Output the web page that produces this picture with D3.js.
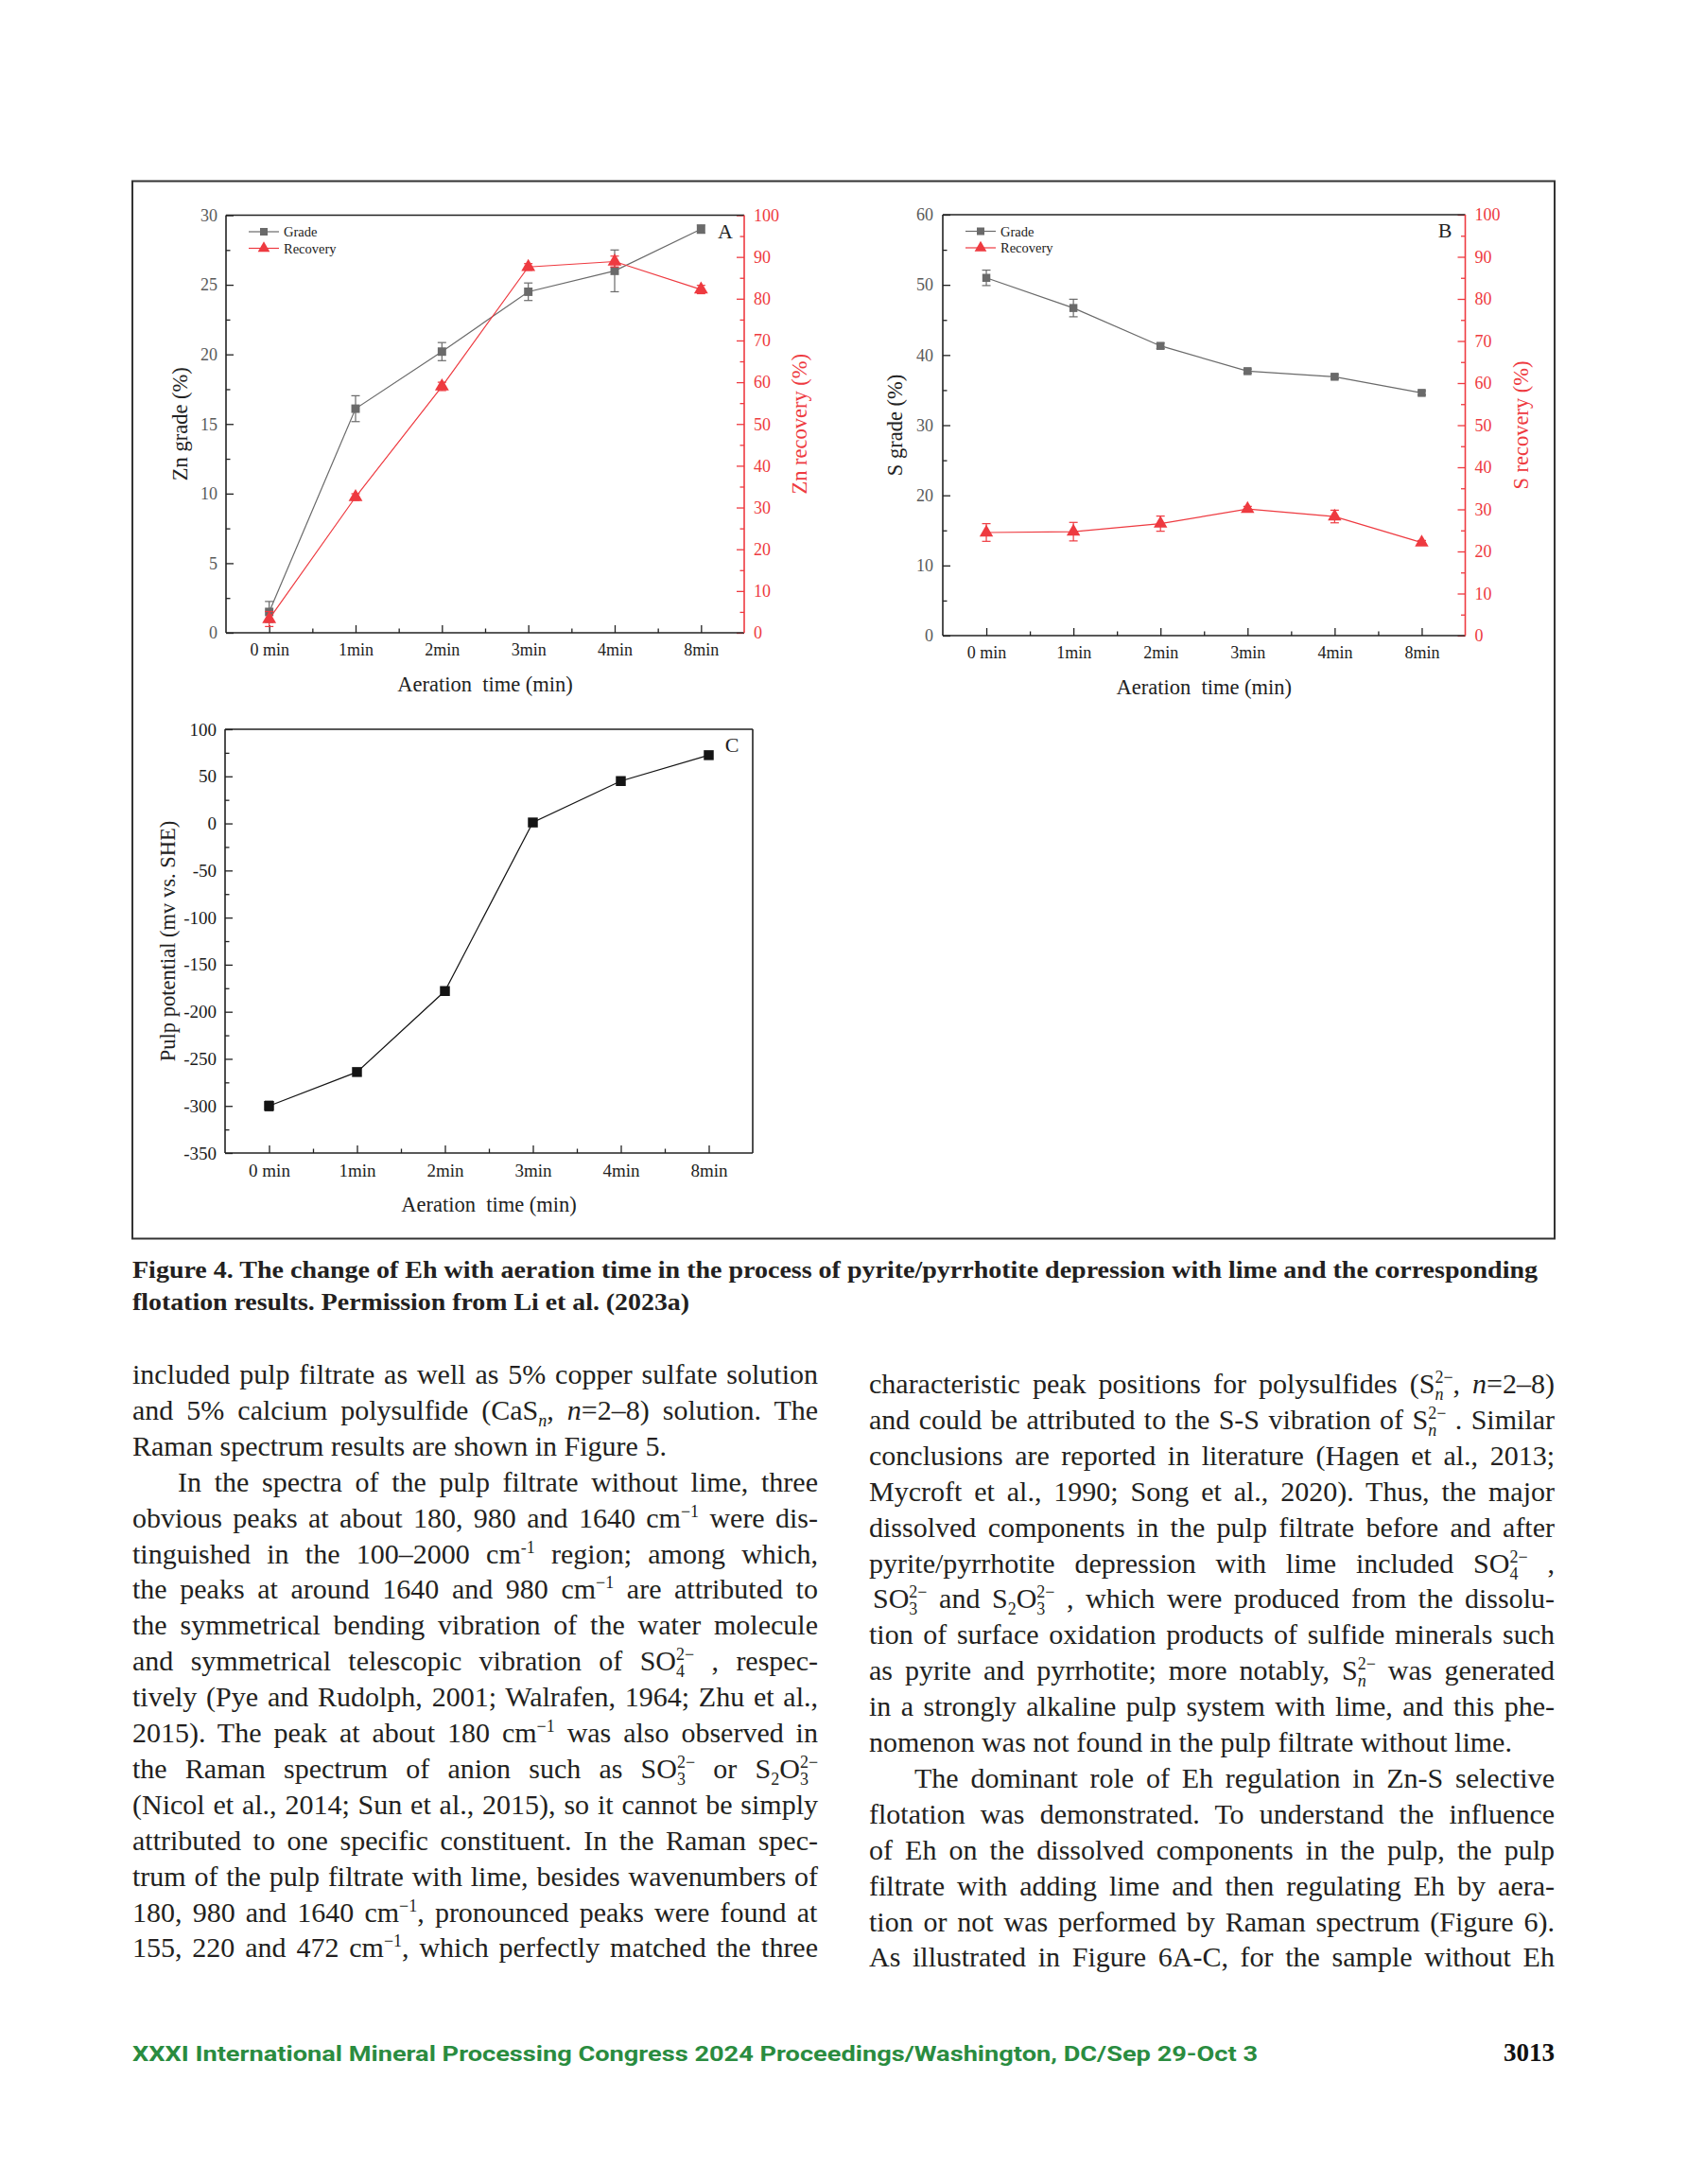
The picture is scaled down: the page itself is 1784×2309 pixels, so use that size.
<!DOCTYPE html>
<html>
<head>
<meta charset="utf-8">
<script src="https://cdn.jsdelivr.net/npm/d3@7"></script>
<style>
  html, body { margin: 0; padding: 0; background: #fff; }
  svg { display: block; }
</style>
</head>
<body>
<svg id="page" width="1784" height="2309"></svg>
<script>
// ---------------- DATA ----------------
const categories = ["0 min", "1min", "2min", "3min", "4min", "8min"];

const znGrade       = [1.5, 16.1, 20.2, 24.5, 26.0, 29.0];
const znGradeErr    = [0.75, 0.93, 0.65, 0.63, 1.5, 0.3];
const znRecovery    = [3.3, 32.5, 59.0, 87.6, 88.9, 82.2];
const znRecoveryErr = [1.8, 0.8, 1.0, 0.8, 1.3, 1.0];

const sGrade        = [51.0, 46.7, 41.3, 37.7, 36.9, 34.6];
const sGradeErr     = [1.1, 1.25, 0.4, 0.3, 0.3, 0.3];
const sRecovery     = [24.5, 24.7, 26.6, 30.1, 28.3, 22.1];
const sRecoveryErr  = [2.1, 2.2, 1.8, 0.6, 1.5, 0.5];

const pulpPotential    = [-300, -264, -178, 1, 45, 72.5];
const pulpPotentialErr = [5, 3, 3, 2, 4, 3];

const znGradeTicks   = [0, 5, 10, 15, 20, 25, 30];
const sGradeTicks    = [0, 10, 20, 30, 40, 50, 60];
const recoveryTicks  = [0, 10, 20, 30, 40, 50, 60, 70, 80, 90, 100];
const potentialTicks = [-350, -300, -250, -200, -150, -100, -50, 0, 50, 100];

const legendLabels = ["Grade", "Recovery"];

const captionLines = [
  "Figure 4. The change of Eh with aeration time in the process of pyrite/pyrrhotite depression with lime and the corresponding",
  "flotation results. Permission from Li et al. (2023a)"
];

// body text markup: ^{..} sup, _{..} sub, [sup|sub] stacked, *..* italic
const leftColumn = [
  {t: "included pulp filtrate as well as 5% copper sulfate solution"},
  {t: "and 5% calcium polysulfide (CaS_{n}, *n*=2–8) solution. The"},
  {t: "Raman spectrum results are shown in Figure 5.", last: true},
  {t: "In the spectra of the pulp filtrate without lime, three", indent: true},
  {t: "obvious peaks at about 180, 980 and 1640 cm^{−1} were dis-"},
  {t: "tinguished in the 100–2000 cm^{-1} region; among which,"},
  {t: "the peaks at around 1640 and 980 cm^{−1} are attributed to"},
  {t: "the symmetrical bending vibration of the water molecule"},
  {t: "and symmetrical telescopic vibration of SO[2−|4] , respec-"},
  {t: "tively (Pye and Rudolph, 2001; Walrafen, 1964; Zhu et al.,"},
  {t: "2015). The peak at about 180 cm^{−1} was also observed in"},
  {t: "the Raman spectrum of anion such as SO[2−|3] or S_{2}O[2−|3]"},
  {t: "(Nicol et al., 2014; Sun et al., 2015), so it cannot be simply"},
  {t: "attributed to one specific constituent. In the Raman spec-"},
  {t: "trum of the pulp filtrate with lime, besides wavenumbers of"},
  {t: "180, 980 and 1640 cm^{−1}, pronounced peaks were found at"},
  {t: "155, 220 and 472 cm^{−1}, which perfectly matched the three"}
];
const rightColumn = [
  {t: "characteristic peak positions for polysulfides (S[2−|n], *n*=2–8)"},
  {t: "and could be attributed to the S-S vibration of S[2−|n] . Similar"},
  {t: "conclusions are reported in literature (Hagen et al., 2013;"},
  {t: "Mycroft et al., 1990; Song et al., 2020). Thus, the major"},
  {t: "dissolved components in the pulp filtrate before and after"},
  {t: "pyrite/pyrrhotite depression with lime included SO[2−|4] ,"},
  {t: "SO[2−|3] and S_{2}O[2−|3] , which were produced from the dissolu-", pad: 4},
  {t: "tion of surface oxidation products of sulfide minerals such"},
  {t: "as pyrite and pyrrhotite; more notably, S[2−|n] was generated"},
  {t: "in a strongly alkaline pulp system with lime, and this phe-"},
  {t: "nomenon was not found in the pulp filtrate without lime.", last: true},
  {t: "The dominant role of Eh regulation in Zn-S selective", indent: true},
  {t: "flotation was demonstrated. To understand the influence"},
  {t: "of Eh on the dissolved components in the pulp, the pulp"},
  {t: "filtrate with adding lime and then regulating Eh by aera-"},
  {t: "tion or not was performed by Raman spectrum (Figure 6)."},
  {t: "As illustrated in Figure 6A-C, for the sample without Eh"}
];

const footerText = "XXXI International Mineral Processing Congress 2024 Proceedings/Washington, DC/Sep 29-Oct 3";
const pageNumber = "3013";

// ---------------- STYLE ----------------
const serif = "'Liberation Serif','Times New Roman',serif";
const GREY = "#6a6a6a";
const RED = "#ee3a40";
const INK = "#231f20";
const plainFmt = d => String(d); // hyphen-minus like the original

const svg = d3.select("#page");
svg.append("rect").attr("width", 1784).attr("height", 2309).attr("fill", "#fff");

// figure frame
svg.append("rect").attr("x", 140).attr("y", 191.5).attr("width", 1504).attr("height", 1118)
  .attr("fill", "none").attr("stroke", "#333").attr("stroke-width", 2);

function styleAxis(g, size, color) {
  g.attr("font-family", serif).attr("font-size", size);
  g.select(".domain").remove();
  g.selectAll(".tick line").attr("stroke", color).attr("stroke-width", 1.3);
  g.selectAll(".tick text").attr("fill", color);
}

function panel(o) {
  const g = svg.append("g");
  const x = d3.scaleLinear().domain([-0.5, 5.5]).range([o.x0, o.x1]);
  const yL = d3.scaleLinear().domain(o.leftDomain).range([o.y1, o.y0]);
  const yR = o.rightDomain ? d3.scaleLinear().domain(o.rightDomain).range([o.y1, o.y0]) : null;
  const fs = o.fontSize;

  // x axis (inward ticks)
  const xa = g.append("g").attr("transform", `translate(0,${o.y1})`)
    .call(d3.axisBottom(x).tickValues(d3.range(categories.length)).tickFormat(i => categories[i])
      .tickSize(-8).tickPadding(11.5));
  styleAxis(xa, fs, "#222");
  const xm = g.append("g").attr("transform", `translate(0,${o.y1})`)
    .call(d3.axisBottom(x).tickValues(d3.range(0.5, categories.length - 1, 1)).tickFormat("").tickSize(-4.5));
  styleAxis(xm, fs, "#222");

  // left axis
  const la = g.append("g").attr("transform", `translate(${o.x0},0)`)
    .call(d3.axisLeft(yL).tickValues(o.leftTicks).tickFormat(plainFmt).tickSize(-8).tickPadding(o.leftPad));
  styleAxis(la, fs, o.leftTickColor);
  la.selectAll(".tick line").attr("stroke", "#222");
  const lm = g.append("g").attr("transform", `translate(${o.x0},0)`)
    .call(d3.axisLeft(yL).tickValues(o.leftMinor).tickFormat("").tickSize(-4.5));
  styleAxis(lm, fs, "#222");

  if (yR) {
    const ra = g.append("g").attr("transform", `translate(${o.x1},0)`)
      .call(d3.axisRight(yR).tickValues(o.rightTicks).tickFormat(plainFmt).tickSize(-8).tickPadding(10));
    styleAxis(ra, fs, RED);
    const rm = g.append("g").attr("transform", `translate(${o.x1},0)`)
      .call(d3.axisRight(yR).tickValues(o.rightMinor).tickFormat("").tickSize(-4.5));
    styleAxis(rm, fs, RED);
  }

  // frame lines
  const fr = g.append("g").attr("fill", "none").attr("stroke-width", 1.6);
  fr.append("line").attr("x1", o.x0).attr("x2", o.x1).attr("y1", o.y0).attr("y2", o.y0).attr("stroke", "#222");
  fr.append("line").attr("x1", o.x0).attr("x2", o.x1).attr("y1", o.y1).attr("y2", o.y1).attr("stroke", "#222");
  fr.append("line").attr("x1", o.x0).attr("x2", o.x0).attr("y1", o.y0).attr("y2", o.y1).attr("stroke", "#222");
  fr.append("line").attr("x1", o.x1).attr("x2", o.x1).attr("y1", o.y0).attr("y2", o.y1)
    .attr("stroke", yR ? RED : "#222");

  // titles
  g.append("text").attr("x", (o.x0 + o.x1) / 2).attr("y", o.y1 + 61.5)
    .attr("text-anchor", "middle").attr("font-family", serif).attr("font-size", 22.5).attr("fill", "#222")
    .attr("xml:space", "preserve").text("Aeration  time (min)");
  const cy = (o.y0 + o.y1) / 2;
  g.append("text").attr("transform", `translate(${o.leftLabelX},${cy}) rotate(-90)`).attr("dy", "0.35em")
    .attr("text-anchor", "middle").attr("font-family", serif).attr("font-size", 22.5).attr("fill", "#222")
    .text(o.leftLabel);
  if (yR) {
    g.append("text").attr("transform", `translate(${o.rightLabelX},${cy}) rotate(-90)`).attr("dy", "0.35em")
      .attr("text-anchor", "middle").attr("font-family", serif).attr("font-size", 22.5).attr("fill", RED)
      .text(o.rightLabel);
  }
  g.append("text").attr("x", o.tagX).attr("y", o.tagY).attr("text-anchor", "middle")
    .attr("font-family", serif).attr("font-size", 22).attr("fill", "#222").text(o.tag);

  // series
  o.series.forEach(s => {
    const y = s.axis === "R" ? yR : yL;
    const sg = g.append("g");
    sg.append("path").datum(s.values)
      .attr("d", d3.line().x((d, i) => x(i)).y(d => y(d)))
      .attr("fill", "none").attr("stroke", s.color).attr("stroke-width", 1.2);
    const eb = sg.append("g").attr("stroke", s.color).attr("stroke-width", 1.2);
    s.values.forEach((v, i) => {
      const e = s.err[i];
      const xi = x(i);
      eb.append("line").attr("x1", xi).attr("x2", xi).attr("y1", y(v - e)).attr("y2", y(v + e));
      eb.append("line").attr("x1", xi - 4.5).attr("x2", xi + 4.5).attr("y1", y(v - e)).attr("y2", y(v - e));
      eb.append("line").attr("x1", xi - 4.5).attr("x2", xi + 4.5).attr("y1", y(v + e)).attr("y2", y(v + e));
    });
    sg.selectAll("path.m").data(s.values).join("path").attr("class", "m")
      .attr("transform", (d, i) => `translate(${x(i)},${y(d)})`)
      .attr("d", d3.symbol().type(s.marker === "tri" ? d3.symbolTriangle : d3.symbolSquare).size(s.size))
      .attr("fill", s.color);
  });

  // legend
  if (o.legend) {
    o.series.forEach((s, k) => {
      const ly = o.y0 + 17.5 + k * 17.5;
      const lx = o.x0 + 24;
      g.append("line").attr("x1", lx).attr("x2", lx + 32).attr("y1", ly).attr("y2", ly)
        .attr("stroke", s.color).attr("stroke-width", 1.2);
      g.append("path").attr("transform", `translate(${lx + 16},${ly})`)
        .attr("d", d3.symbol().type(s.marker === "tri" ? d3.symbolTriangle : d3.symbolSquare).size(s.marker === "tri" ? 70 : 64))
        .attr("fill", s.color);
      g.append("text").attr("x", lx + 37).attr("y", ly).attr("dy", "0.35em")
        .attr("font-family", serif).attr("font-size", 14.5).attr("fill", "#222").text(legendLabels[k]);
    });
  }
}

panel({
  x0: 239, x1: 787, y0: 227.5, y1: 669, fontSize: 18,
  leftDomain: [0, 30], leftTicks: znGradeTicks, leftMinor: d3.range(2.5, 30, 5), leftPad: 9,
  leftTickColor: "#5a5a5a", leftLabel: "Zn grade (%)", leftLabelX: 190.5,
  rightDomain: [0, 100], rightTicks: recoveryTicks, rightMinor: d3.range(5, 100, 10),
  rightLabel: "Zn recovery (%)", rightLabelX: 845,
  tag: "A", tagX: 767, tagY: 252, legend: true,
  series: [
    {values: znGrade, err: znGradeErr, axis: "L", color: GREY, marker: "square", size: 80},
    {values: znRecovery, err: znRecoveryErr, axis: "R", color: RED, marker: "tri", size: 95}
  ]
});

panel({
  x0: 997, x1: 1549.5, y0: 227, y1: 672, fontSize: 18,
  leftDomain: [0, 60], leftTicks: sGradeTicks, leftMinor: d3.range(5, 60, 10), leftPad: 10,
  leftTickColor: "#5a5a5a", leftLabel: "S grade (%)", leftLabelX: 946,
  rightDomain: [0, 100], rightTicks: recoveryTicks, rightMinor: d3.range(5, 100, 10),
  rightLabel: "S recovery (%)", rightLabelX: 1608,
  tag: "B", tagX: 1528, tagY: 251, legend: true,
  series: [
    {values: sGrade, err: sGradeErr, axis: "L", color: GREY, marker: "square", size: 72},
    {values: sRecovery, err: sRecoveryErr, axis: "R", color: RED, marker: "tri", size: 90}
  ]
});

panel({
  x0: 238, x1: 796, y0: 771, y1: 1219, fontSize: 19,
  leftDomain: [-350, 100], leftTicks: potentialTicks, leftMinor: d3.range(-325, 100, 50), leftPad: 9,
  leftTickColor: "#1a1a1a", leftLabel: "Pulp potential (mv vs. SHE)", leftLabelX: 177,
  tag: "C", tagX: 774, tagY: 795, legend: false,
  series: [
    {values: pulpPotential, err: pulpPotentialErr, axis: "L", color: "#141414", marker: "square", size: 110}
  ]
});

// ---------------- CAPTION ----------------
const capY = [1351, 1385];
const capW = [1486, 589];
captionLines.forEach((c, i) => {
  svg.append("text").attr("x", 140).attr("y", capY[i])
    .attr("font-family", serif).attr("font-weight", "bold").attr("font-size", 26).attr("fill", INK)
    .attr("textLength", capW[i]).attr("lengthAdjust", "spacingAndGlyphs").text(c);
});

// ---------------- BODY TEXT ----------------
const tokenRe = /\[([^|\]]*)\|([^\]]*)\]|\^\{([^}]*)\}|_\{([^}]*)\}|\*([^*]+)\*|[^\[\^_*]+/g;
const BODY = 30, SCR = 18, SUP = -11, SUB = 7;

function renderLine(parent, line, x, y, width) {
  const indent = line.indent ? 48 : (line.pad || 0);
  const t = parent.append("text").attr("x", x + indent).attr("y", y)
    .attr("font-family", serif).attr("font-size", BODY).attr("fill", INK)
    .attr("xml:space", "preserve");
  let cur = 0, pendDx = 0;
  let m;
  tokenRe.lastIndex = 0;
  while ((m = tokenRe.exec(line.t)) !== null) {
    if (m[1] !== undefined) {
      const sp = t.append("tspan").attr("font-size", SCR).attr("dy", SUP - cur).text(m[1]);
      if (pendDx) sp.attr("dx", pendDx);
      pendDx = 0;
      const ws = sp.node().getComputedTextLength();
      const sb = t.append("tspan").attr("font-size", SCR).attr("dx", -ws).attr("dy", SUB - SUP).text(m[2]);
      if (/[a-z]/.test(m[2])) sb.attr("font-style", "italic");
      const wb = sb.node().getComputedTextLength();
      cur = SUB;
      pendDx = Math.max(0, ws - wb);
    } else if (m[3] !== undefined || m[4] !== undefined) {
      const isSup = m[3] !== undefined;
      const txt = isSup ? m[3] : m[4];
      const target = isSup ? SUP : SUB;
      const sp = t.append("tspan").attr("font-size", SCR).attr("dy", target - cur).text(txt);
      if (/^[a-z]$/.test(txt)) sp.attr("font-style", "italic");
      if (pendDx) sp.attr("dx", pendDx);
      pendDx = 0;
      cur = target;
    } else {
      const italic = m[5] !== undefined;
      const txt = italic ? m[5] : m[0];
      const sp = t.append("tspan").attr("dy", -cur).text(txt);
      if (italic) sp.attr("font-style", "italic");
      if (pendDx) sp.attr("dx", pendDx);
      pendDx = 0;
      cur = 0;
    }
  }
  if (!line.last) {
    const w = t.node().getBBox().width;
    const spaces = (t.text().match(/ /g) || []).length;
    if (spaces > 0) {
      const extra = (width - indent - w) / spaces;
      t.attr("word-spacing", extra.toFixed(2));
      t.style("word-spacing", extra.toFixed(2) + "px");
    }
  }
}

const bodyG = svg.append("g");
leftColumn.forEach((l, i) => renderLine(bodyG, l, 140, 1463 + i * 37.9, 725));
rightColumn.forEach((l, i) => renderLine(bodyG, l, 919, 1473 + i * 37.9, 725));

// ---------------- FOOTER ----------------
svg.append("text").attr("x", 140).attr("y", 2179)
  .attr("font-family", "Roboto, 'Liberation Sans', sans-serif").attr("font-weight", "bold")
  .attr("font-size", 22).attr("fill", "#2a8c3f")
  .attr("textLength", 1190).attr("lengthAdjust", "spacingAndGlyphs").text(footerText);
svg.append("text").attr("x", 1644).attr("y", 2179).attr("text-anchor", "end")
  .attr("font-family", serif).attr("font-weight", "bold").attr("font-size", 27).attr("fill", "#111")
  .text(pageNumber);
</script>
</body>
</html>
